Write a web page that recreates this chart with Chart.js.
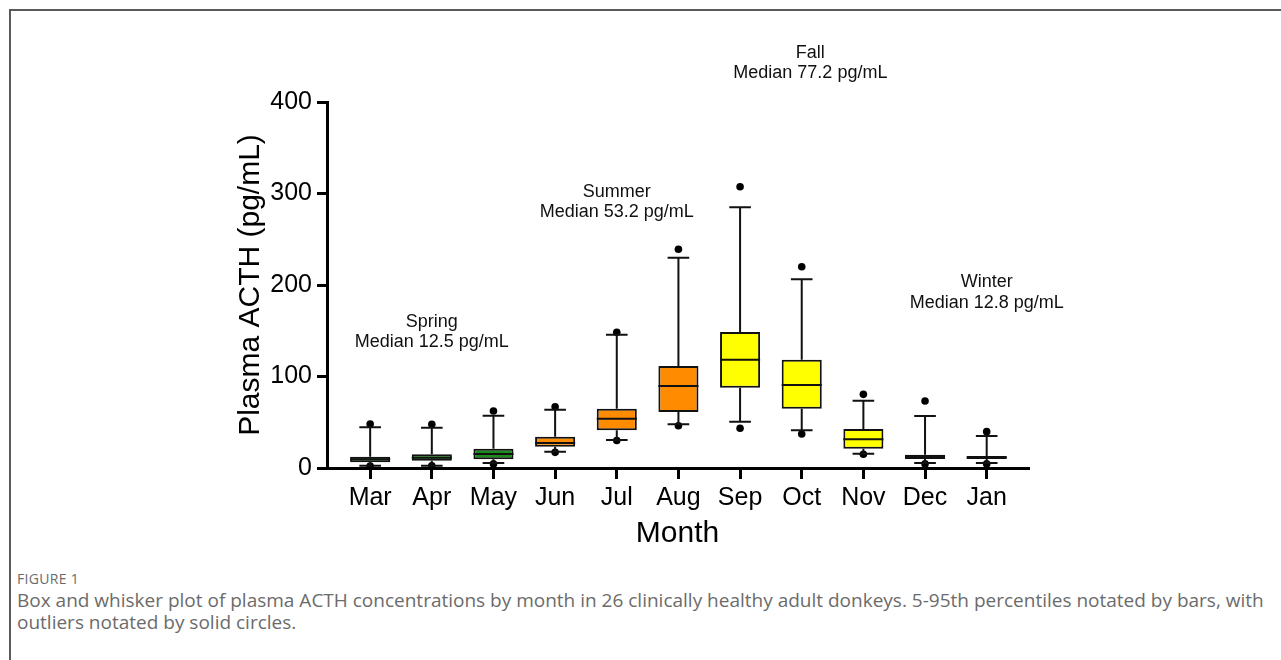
<!DOCTYPE html>
<html><head><meta charset="utf-8">
<script src="https://cdn.jsdelivr.net/npm/chart.js@4/dist/chart.umd.min.js"></script>
<style>
html,body{margin:0;padding:0;background:#fff;width:1281px;height:660px;overflow:hidden;}
#frame{position:absolute;left:9px;top:9px;width:1400px;height:800px;border-top:2px solid #5a5a5a;border-left:2px solid #5a5a5a;}
#wrap{position:absolute;left:0;top:0;width:1281px;height:560px;}
#fig{position:absolute;left:17px;top:569px;font-family:"Open Sans";font-size:14px;letter-spacing:0.3px;color:#6b6b6b;}
#cap{position:absolute;left:17px;top:589px;font-family:"Open Sans";font-size:19px;line-height:22px;color:#6b6b6b;white-space:nowrap;}
</style></head>
<body>
<div id="frame"></div>
<div id="wrap"><canvas id="c" width="1281" height="560"></canvas></div>
<div id="fig">FIGURE 1</div>
<div id="cap">Box and whisker plot of plasma ACTH concentrations by month in 26 clinically healthy adult donkeys. 5-95th percentiles notated by bars, with<br>outliers notated by solid circles.</div>
<script>
const months = ['Mar','Apr','May','Jun','Jul','Aug','Sep','Oct','Nov','Dec','Jan'];
const q1 = [6.2, 8.0, 9.5, 23.3, 41.2, 61.2, 87.8, 64.8, 21.1, 9.8, 9.8];
const medians = [9.5, 11.3, 15.3, 27.3, 53.9, 89.6, 118.4, 90.7, 31.4, 12.2, 11.5];
const q3 = [12.3, 15.0, 21.1, 34.2, 64.8, 111.5, 148.6, 118.4, 42.6, 14.5, 13.1];
const whiskerLow = [2.5, 2.5, 5.5, 17.8, 30.6, 47.8, 50.6, 41.2, 15.6, 5.5, 5.5];
const whiskerHigh = [44.5, 44.0, 57.2, 63.7, 145.7, 229.8, 284.9, 206.2, 73.6, 56.8, 35.0];
const outlierHigh = [48.0, 47.7, 62.3, 67.0, 148.3, 239.0, 307.4, 220.0, 80.5, 73.2, 39.7];
const outlierLow = [2.0, 2.5, 4.5, 17.1, 30.0, 46.2, 43.4, 37.2, 15.0, 4.5, 4.5];
const yTicks = [0, 100, 200, 300, 400];
const seasonNames = ['Spring', 'Summer', 'Fall', 'Winter'];
const seasonMedians = [12.5, 53.2, 77.2, 12.8];
const monthSeason = [0,0,0,1,1,1,2,2,2,3,3];

// styling / layout (not data)
const seasonColors = ['#1c8a1c', '#ff8c00', '#ffff00', '#0b0b5a'];
const seasonAnchors = [{x:1, y:154.6}, {x:4, y:296.2}, {x:7.14, y:448.4}, {x:10, y:197.8}];

const boxPlugin = {
  id: 'boxParts',
  afterDatasetsDraw(chart) {
    const ctx = chart.ctx, ys = chart.scales.y;
    const meta = chart.getDatasetMeta(0);
    ctx.save();
    ctx.strokeStyle = '#111';
    ctx.lineWidth = 2;
    meta.data.forEach((bar, i) => {
      const cx = bar.x, hw = bar.width / 2, cw = bar.width * 0.27;
      const pm = ys.getPixelForValue(medians[i]);
      const p1 = ys.getPixelForValue(q1[i]);
      const p3 = ys.getPixelForValue(q3[i]);
      const pl = ys.getPixelForValue(whiskerLow[i]);
      const ph = ys.getPixelForValue(whiskerHigh[i]);
      ctx.beginPath();
      ctx.moveTo(cx - hw, pm); ctx.lineTo(cx + hw, pm);
      ctx.moveTo(cx, p3); ctx.lineTo(cx, ph);
      ctx.moveTo(cx - cw, ph); ctx.lineTo(cx + cw, ph);
      ctx.moveTo(cx, p1); ctx.lineTo(cx, pl);
      ctx.moveTo(cx - cw, pl); ctx.lineTo(cx + cw, pl);
      ctx.stroke();
    });
    ctx.restore();
  },
  afterDraw(chart) {
    const ctx = chart.ctx, xs = chart.scales.x, ys = chart.scales.y;
    ctx.save();
    ctx.fillStyle = '#111';
    ctx.font = '18px "Liberation Sans", Arial, sans-serif';
    ctx.textAlign = 'center';
    ctx.textBaseline = 'alphabetic';
    seasonNames.forEach((name, k) => {
      const px = xs.getPixelForValue(seasonAnchors[k].x);
      const py = ys.getPixelForValue(seasonAnchors[k].y);
      ctx.fillText(name, px, py);
      ctx.fillText('Median ' + seasonMedians[k].toFixed(1) + ' pg/mL', px, py + 20.5);
    });
    ctx.restore();
  }
};

const outlierPoints = [];
months.forEach((m, i) => {
  outlierPoints.push({x: i, y: outlierHigh[i]});
  outlierPoints.push({x: i, y: outlierLow[i]});
});

new Chart(document.getElementById('c'), {
  type: 'bar',
  data: {
    datasets: [
      {
        type: 'bar',
        data: months.map((m, i) => ({x: i, y: [q1[i], q3[i]]})),
        backgroundColor: monthSeason.map(s => seasonColors[s]),
        borderColor: '#111',
        borderWidth: 2,
        borderSkipped: false,
        barPercentage: 0.65,
        categoryPercentage: 1,
        order: 2
      },
      {
        type: 'scatter',
        data: outlierPoints,
        pointRadius: 3.8,
        pointBackgroundColor: '#000',
        pointBorderWidth: 0,
        order: 1
      }
    ]
  },
  options: {
    responsive: false,
    animation: false,
    devicePixelRatio: 1,
    layout: {padding: {left: 200, top: 102, right: 253, bottom: 0}},
    plugins: {legend: {display: false}, tooltip: {enabled: false}},
    scales: {
      x: {
        type: 'linear', min: -0.7, max: 10.67, offset: false,
        ticks: {
          stepSize: 1, includeBounds: false, autoSkip: false, maxRotation: 0, minRotation: 0,
          callback: (v) => (Number.isInteger(v) && months[v]) ? months[v] : '',
          font: {family: '"Liberation Sans", Arial, sans-serif', size: 25}, color: '#000', padding: 4
        },
        grid: {drawOnChartArea: false, offset: false, tickLength: 11, lineWidth: 3, color: '#000'},
        border: {display: true, color: '#000', width: 3},
        title: {display: true, text: 'Month', color: '#000',
          font: {family: '"Liberation Sans", Arial, sans-serif', size: 30}, padding: {top: 0, bottom: 8}},
        afterFit(s) { s.height = 92; }
      },
      y: {
        min: 0, max: 400,
        afterBuildTicks(s) { s.ticks = yTicks.map(v => ({value: v})); },
        ticks: {
          font: {family: '"Liberation Sans", Arial, sans-serif', size: 25}, color: '#000', padding: 5
        },
        grid: {drawOnChartArea: false, tickLength: 10, lineWidth: 3, color: '#000'},
        border: {display: true, color: '#000', width: 3},
        title: {display: true, text: 'Plasma ACTH (pg/mL)', color: '#000',
          font: {family: '"Liberation Sans", Arial, sans-serif', size: 30}, padding: {top: 33, bottom: 0}},
        afterFit(s) { s.width = 127; }
      }
    }
  },
  plugins: [boxPlugin]
});
</script>
</body></html>
